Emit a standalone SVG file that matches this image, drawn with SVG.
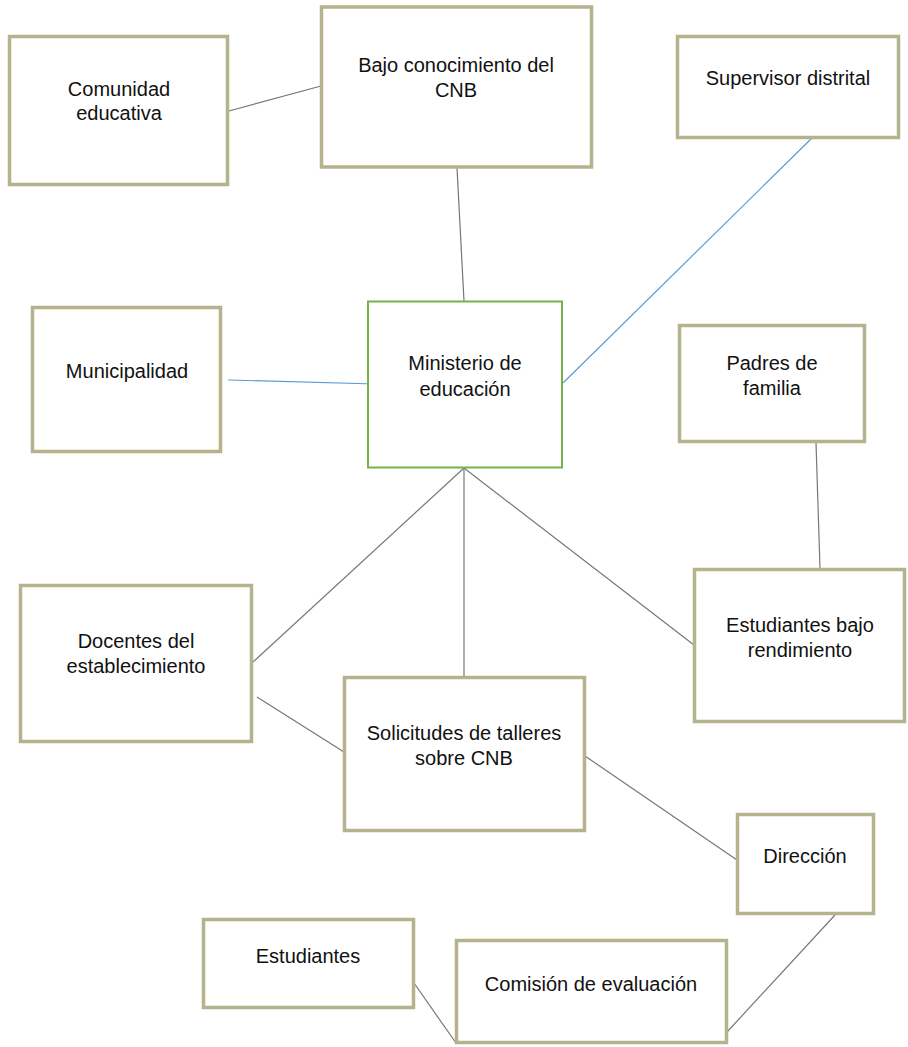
<svg xmlns="http://www.w3.org/2000/svg" width="908" height="1047" viewBox="0 0 908 1047">
<style>
.box{fill:#fff;stroke:#B4B38E;stroke-width:3.5;}
.main{fill:#fff;stroke:#77B149;stroke-width:2;}
.t{font-family:"Liberation Sans",Arial,sans-serif;font-size:20px;fill:#111;text-anchor:middle;}
.g{stroke:#777;stroke-width:1.2;fill:none;}
.b{stroke:#5B9BD5;stroke-width:1.2;fill:none;}
</style>
<rect width="908" height="1047" fill="#fff"/>
<g id="connectors">
<line class="g" x1="229" y1="111" x2="321" y2="86"/>
<line class="g" x1="457" y1="168" x2="464" y2="301"/>
<line class="b" x1="812" y1="138" x2="563" y2="383"/>
<line class="b" x1="228" y1="380" x2="375" y2="384"/>
<line class="g" x1="816" y1="443" x2="820" y2="568"/>
<line class="g" x1="464" y1="468" x2="253" y2="662"/>
<line class="g" x1="464" y1="468" x2="464" y2="677"/>
<line class="g" x1="464" y1="468" x2="694" y2="645"/>
<line class="g" x1="257" y1="697" x2="344" y2="752"/>
<line class="g" x1="585" y1="756" x2="737" y2="860"/>
<line class="g" x1="835" y1="915" x2="727" y2="1032"/>
<line class="g" x1="414" y1="983" x2="456" y2="1043"/>
</g>
<g id="comunidad">
<rect class="box" x="9.5" y="36.5" width="218" height="148"/>
<text class="t" x="119" y="96">Comunidad</text>
<text class="t" x="119" y="120">educativa</text>
</g>
<g id="bajo">
<rect class="box" x="321.5" y="7" width="270" height="160"/>
<text class="t" x="456" y="72">Bajo conocimiento del</text>
<text class="t" x="456" y="97">CNB</text>
</g>
<g id="supervisor">
<rect class="box" x="677.5" y="36.5" width="221" height="101"/>
<text class="t" x="788" y="85">Supervisor distrital</text>
</g>
<g id="municipalidad">
<rect class="box" x="32.5" y="307.5" width="188" height="144"/>
<text class="t" x="127" y="378">Municipalidad</text>
</g>
<g id="ministerio">
<rect class="main" x="368" y="301.5" width="194" height="166"/>
<text class="t" x="465" y="370">Ministerio de</text>
<text class="t" x="465" y="396">educación</text>
</g>
<g id="padres">
<rect class="box" x="679.5" y="325.5" width="185" height="116"/>
<text class="t" x="772" y="370">Padres de</text>
<text class="t" x="772" y="395">familia</text>
</g>
<g id="docentes">
<rect class="box" x="20.5" y="585.5" width="231" height="156"/>
<text class="t" x="136" y="648">Docentes del</text>
<text class="t" x="136" y="673">establecimiento</text>
</g>
<g id="estbajo">
<rect class="box" x="694.5" y="569.5" width="210" height="152"/>
<text class="t" x="800" y="632">Estudiantes bajo</text>
<text class="t" x="800" y="657">rendimiento</text>
</g>
<g id="solicitudes">
<rect class="box" x="344.5" y="677.5" width="240" height="153"/>
<text class="t" x="464" y="740">Solicitudes de talleres</text>
<text class="t" x="464" y="765">sobre CNB</text>
</g>
<g id="direccion">
<rect class="box" x="737.5" y="814.5" width="136" height="99"/>
<text class="t" x="805" y="863">Dirección</text>
</g>
<g id="estudiantes">
<rect class="box" x="203.5" y="919.5" width="210" height="88"/>
<text class="t" x="308" y="963">Estudiantes</text>
</g>
<g id="comision">
<rect class="box" x="456.5" y="940.5" width="270" height="102"/>
<text class="t" x="591" y="991">Comisión de evaluación</text>
</g>
</svg>
